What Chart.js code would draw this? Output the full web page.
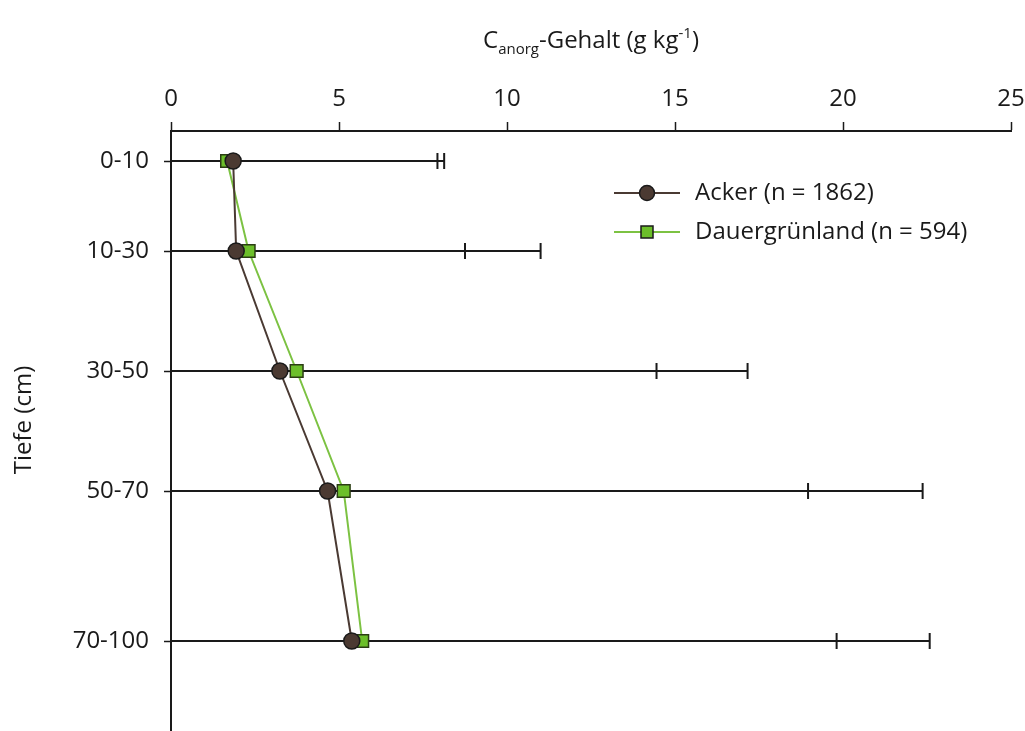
<!DOCTYPE html>
<html>
<head>
<meta charset="utf-8">
<script src="https://cdn.jsdelivr.net/npm/chart.js@4/dist/chart.umd.min.js"></script>
<style>
  html, body { margin: 0; padding: 0; background: #fff; }
  #wrap { width: 1025px; height: 731px; }
</style>
</head>
<body>
<div id="wrap"><canvas id="chart" width="1025" height="731"></canvas></div>
<script>
// depth classes and their mid depth (cm)
const depthLabels = ["0-10", "10-30", "30-50", "50-70", "70-100"];
const depthMid = [5, 20, 40, 60, 85];

// mean C_anorg content (g/kg)
const ackerMean = [1.85, 1.94, 3.24, 4.66, 5.38];
const gruenMean = [1.67, 2.31, 3.74, 5.14, 5.69];

// upper end of the error bars
const ackerUpper = [7.93, 8.75, 14.45, 18.96, 19.81];
const gruenUpper = [8.13, 11.0, 17.16, 22.37, 22.58];

const xTicks = [0, 5, 10, 15, 20, 25];

const FONT = "'Open Sans', Lato, sans-serif";
const TEXT = "#1a1a1a";
const SIZE = 24;

const toPoints = (means) => means.map((v, i) => ({ x: v, y: depthMid[i] }));

const errorBars = {
  id: "errorBars",
  beforeDatasetsDraw(chart) {
    const { ctx, scales } = chart;
    const x = scales.x, y = scales.y;
    ctx.save();
    ctx.strokeStyle = "#1a1a1a";
    ctx.lineWidth = 2;
    [ackerUpper, gruenUpper].forEach((upper) => {
      upper.forEach((u, i) => {
        const py = y.getPixelForValue(depthMid[i]);
        const px0 = x.getPixelForValue(0);
        const px1 = x.getPixelForValue(u);
        ctx.beginPath();
        ctx.moveTo(px0, py);
        ctx.lineTo(px1, py);
        ctx.moveTo(px1, py - 8);
        ctx.lineTo(px1, py + 8);
        ctx.stroke();
      });
    });
    ctx.restore();
  },
};

const titles = {
  id: "titles",
  afterDraw(chart) {
    const { ctx, chartArea } = chart;
    ctx.save();
    ctx.fillStyle = TEXT;
    ctx.textBaseline = "alphabetic";
    const big = SIZE + "px " + FONT;
    const small = "15px " + FONT;
    const parts = [
      { t: "C", f: big, dy: 0 },
      { t: "anorg", f: small, dy: 6 },
      { t: "-Gehalt (g kg", f: big, dy: 0 },
      { t: "-1", f: small, dy: -10 },
      { t: ")", f: big, dy: 0 },
    ];
    let w = 0;
    parts.forEach((p) => { ctx.font = p.f; w += ctx.measureText(p.t).width; });
    let cx = (chartArea.left + chartArea.right) / 2 - w / 2;
    const base = 48;
    ctx.textAlign = "left";
    parts.forEach((p) => {
      ctx.font = p.f;
      ctx.fillText(p.t, cx, base + p.dy);
      cx += ctx.measureText(p.t).width;
    });

    // y axis title
    ctx.font = big;
    ctx.textAlign = "center";
    ctx.textBaseline = "middle";
    ctx.translate(24, 420);
    ctx.rotate(-Math.PI / 2);
    ctx.fillText("Tiefe (cm)", 0, 0);
    ctx.restore();
  },
};

const legendBox = {
  id: "legendBox",
  afterDraw(chart) {
    const { ctx } = chart;
    const rows = [
      { label: "Acker (n = 1862)", line: "#4a3a33", y: 193, shape: "circle" },
      { label: "Dauergrünland (n = 594)", line: "#7cc242", y: 232, shape: "rect" },
    ];
    ctx.save();
    rows.forEach((r) => {
      ctx.strokeStyle = r.line;
      ctx.lineWidth = 2;
      ctx.beginPath();
      ctx.moveTo(614, r.y);
      ctx.lineTo(680, r.y);
      ctx.stroke();
      ctx.lineWidth = 1.5;
      ctx.strokeStyle = "#1a1a1a";
      if (r.shape === "circle") {
        ctx.fillStyle = "#4b3a32";
        ctx.beginPath();
        ctx.arc(647, r.y, 7.5, 0, Math.PI * 2);
        ctx.fill();
        ctx.stroke();
      } else {
        ctx.fillStyle = "#6cbf2a";
        ctx.fillRect(641, r.y - 6, 12, 12);
        ctx.strokeRect(641, r.y - 6, 12, 12);
      }
      ctx.fillStyle = TEXT;
      ctx.font = SIZE + "px " + FONT;
      ctx.textAlign = "left";
      ctx.textBaseline = "middle";
      ctx.fillText(r.label, 695, r.y);
    });
    ctx.restore();
  },
};

new Chart(document.getElementById("chart"), {
  type: "scatter",
  data: {
    datasets: [
      {
        label: "Acker (n = 1862)",
        data: toPoints(ackerMean),
        showLine: true,
        borderColor: "#4a3a33",
        borderWidth: 2,
        backgroundColor: "#4b3a32",
        pointStyle: "circle",
        pointRadius: 8,
        pointBorderColor: "#1a1a1a",
        pointBorderWidth: 1.5,
        pointHoverRadius: 8,
      },
      {
        label: "Dauergrünland (n = 594)",
        data: toPoints(gruenMean),
        showLine: true,
        borderColor: "#7cc242",
        borderWidth: 2,
        backgroundColor: "#6cbf2a",
        pointStyle: "rect",
        pointRadius: 9,
        pointBorderColor: "#2b3d14",
        pointBorderWidth: 1.5,
        pointHoverRadius: 9,
      },
    ],
  },
  options: {
    responsive: false,
    animation: false,
    devicePixelRatio: 1,
    layout: { autoPadding: false, padding: { left: 0, right: 14, top: 0, bottom: 0 } },
    plugins: {
      legend: { display: false },
      tooltip: { enabled: false },
    },
    scales: {
      x: {
        type: "linear",
        position: "top",
        min: 0,
        max: 25,
        afterFit: (scale) => {
          scale.height = 131;
          scale.paddingLeft = 0;
          scale.paddingRight = 0;
        },
        afterBuildTicks: (scale) => { scale.ticks = xTicks.map((v) => ({ value: v })); },
        ticks: { color: TEXT, font: { family: FONT, size: SIZE }, padding: 8 },
        grid: { drawOnChartArea: false, tickLength: 9, tickColor: "#1a1a1a", tickWidth: 1.5 },
        border: { color: "#1a1a1a", width: 2 },
      },
      y: {
        type: "linear",
        reverse: true,
        min: 0,
        max: 100,
        afterFit: (scale) => {
          scale.width = 171;
          scale.paddingTop = 0;
          scale.paddingBottom = 0;
        },
        afterBuildTicks: (scale) => { scale.ticks = depthMid.map((v) => ({ value: v })); },
        ticks: {
          color: TEXT,
          font: { family: FONT, size: SIZE },
          padding: 15,
          callback: (value) => depthLabels[depthMid.indexOf(value)],
        },
        grid: { drawOnChartArea: false, tickLength: 7, tickColor: "#1a1a1a", tickWidth: 1.5 },
        border: { color: "#1a1a1a", width: 2 },
      },
    },
  },
  plugins: [errorBars, titles, legendBox],
});
</script>
</body>
</html>
